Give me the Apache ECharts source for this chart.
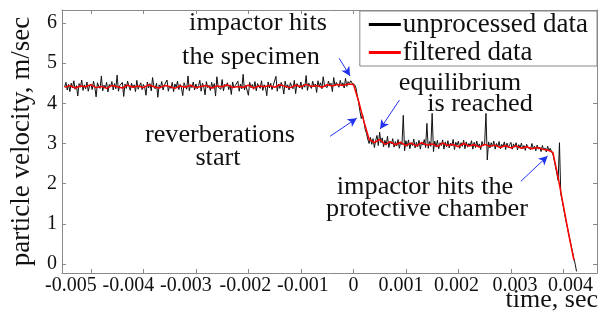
<!DOCTYPE html>
<html>
<head>
<meta charset="utf-8">
<script src="https://cdn.jsdelivr.net/npm/echarts@6/dist/echarts.min.js"></script>
<style>
html, body { margin: 0; padding: 0; background: #fff; }
#chart { width: 609px; height: 318px; }
</style>
</head>
<body>
<div id="chart"></div>
<script>
// sampling of the two traces (sec)
var tStart = -0.0055;
var rawStep = 0.000025;
var filtStep = 0.0001;

// unprocessed velocity, m/sec
var rawVel = [
  // first plateau, before impact
  4.41,4.52,4.33,4.47,4.29,4.50,4.38,4.56,4.35,4.44,
  4.18,4.49,4.40,4.58,4.32,4.46,4.36,4.53,4.30,4.43,
  4.48,4.34,4.55,4.39,4.16,4.51,4.42,4.37,4.68,4.31,
  4.45,4.38,4.52,4.28,4.47,4.41,4.54,4.33,4.49,4.36,
  4.70,4.30,4.44,4.40,4.52,4.17,4.48,4.37,4.55,4.42,
  4.32,4.50,4.39,4.46,4.29,4.57,4.35,4.43,4.51,4.34,
  4.47,4.40,4.20,4.53,4.38,4.49,4.31,4.64,4.42,4.36,
  4.50,4.15,4.46,4.39,4.54,4.33,4.45,4.41,4.58,4.30,
  4.43,4.37,4.52,4.29,4.48,4.40,4.55,4.34,4.47,4.38,
  4.19,4.51,4.42,4.35,4.68,4.31,4.46,4.39,4.53,4.33,
  4.48,4.36,4.44,4.57,4.30,4.50,4.41,4.21,4.54,4.39,
  4.45,4.32,4.52,4.37,4.49,4.18,4.66,4.40,4.43,4.35,
  4.59,4.31,4.47,4.42,4.51,4.34,4.46,4.22,4.53,4.38,
  4.44,4.40,4.55,4.30,4.48,4.36,4.72,4.33,4.45,4.41,
  4.20,4.52,4.39,4.47,4.35,4.54,4.31,4.49,4.42,4.37,
  4.56,4.32,4.46,4.40,4.19,4.53,4.38,4.50,4.34,4.45,
  4.41,4.67,4.30,4.48,4.37,4.52,4.43,4.23,4.55,4.39,
  4.46,4.33,4.51,4.42,4.36,4.57,4.24,4.49,4.44,4.38,
  4.53,4.35,4.47,4.40,4.69,4.32,4.50,4.43,4.37,4.55,
  4.41,4.48,4.27,4.56,4.42,4.51,4.36,4.66,4.44,4.47,
  4.39,4.55,4.45,4.50,4.29,4.64,4.43,4.52,4.46,4.40,
  4.57,4.44,4.51,4.38,4.62,4.42,4.54,4.49,4.56,4.50,
  // impact and reverberations
  4.52,4.46,4.38,4.18,4.02,3.80,3.62,3.72,3.55,3.35,
  3.25,3.10,3.00,3.15,2.98,3.12,2.90,3.08,3.20,2.95,
  3.28,
  // equilibrium
  3.02,3.14,2.92,3.08,2.96,3.18,2.90,3.06,2.99,3.12,
  2.91,3.05,2.94,3.10,2.88,3.04,2.97,3.70,2.82,3.07,
  2.93,3.09,2.87,3.02,2.95,3.11,2.89,3.03,2.92,3.08,
  2.86,3.04,2.96,3.10,2.90,3.50,2.88,3.05,2.93,3.75,
  2.80,3.06,2.91,3.08,2.87,3.02,2.95,3.09,2.86,3.04,
  2.92,3.07,2.89,3.01,2.94,3.10,2.85,3.03,2.96,3.06,
  2.88,3.02,2.93,3.08,2.87,3.04,2.91,3.00,2.95,3.07,
  2.86,3.03,2.90,3.06,2.92,2.99,2.85,3.05,2.94,3.01,
  3.75,2.59,3.04,2.89,3.02,2.93,3.06,2.86,3.00,2.91,
  3.05,2.87,2.98,2.92,3.04,2.85,3.01,2.90,2.97,3.03,
  2.86,2.99,2.91,3.02,2.84,2.97,2.89,3.01,2.87,2.95,
  2.83,2.98,2.90,2.94,2.85,3.00,2.88,2.93,2.82,2.96,
  2.86,2.91,2.80,2.95,2.84,2.89,2.79,2.93,2.83,2.88,2.80,
  // impactor hits the protective chamber
  2.74,2.58,2.42,2.26,2.08,3.02,1.74,1.60,1.42,1.24,
  1.06,0.92,0.76,0.60,0.44,0.30,0.14,0.00,-0.18
];

// filtered velocity, m/sec
var filtVel = [
  4.40,4.44,4.38,4.43,4.41,4.46,4.39,4.42,4.37,4.44,
  4.41,4.38,4.45,4.40,4.43,4.39,4.46,4.41,4.38,4.44,
  4.42,4.37,4.43,4.40,4.45,4.39,4.42,4.44,4.38,4.43,
  4.41,4.46,4.39,4.42,4.40,4.45,4.38,4.43,4.41,4.44,
  4.40,4.46,4.42,4.39,4.45,4.41,4.47,4.42,4.44,4.40,
  4.46,4.43,4.47,4.44,4.48,
  4.47,4.05,3.55,3.10,3.02,3.10,2.98,
  3.04,2.97,3.03,2.95,3.01,2.94,3.02,2.96,2.99,2.93,
  3.01,2.95,2.98,2.92,3.00,2.94,2.97,2.91,2.98,2.93,
  2.96,2.90,2.95,2.89,2.94,2.88,2.92,2.87,2.90,2.86,2.84,
  2.78,2.15,1.45,0.75,0.10
];

var xTicks = [-0.005, -0.004, -0.003, -0.002, -0.001, 0, 0.001, 0.002, 0.003, 0.004];
var yTicks = [0, 1, 2, 3, 4, 5, 6];

// arrows: [fromTime, fromVel, toTime, toVel]
var arrows = [
  [-0.000272, 5.12, -0.000063, 4.68],
  [-0.000444, 3.18, 0.000065, 3.63],
  [0.000876, 4.08, 0.000509, 3.36],
  [0.00319, 2.06, 0.0037, 2.69]
];

// annotation text: [text, centerX px, centerY px]
var notes = [
  ['impactor hits', 258, 23],
  ['the specimen', 251, 57],
  ['equilibrium', 460, 83],
  ['is reached', 480, 104],
  ['reverberations', 220, 135],
  ['start', 218, 158],
  ['impactor hits the', 425, 187],
  ['protective chamber', 427, 209]
];

// the tick labels of the source sit a little off their ticks (px)
var labelShift = [-20, -15, -10, -3, 2, 0, -5, -2, 4, 7];

var serif = 'Liberation Serif';

var rawData = rawVel.map(function (v, i) { return [tStart + i * rawStep, v]; });
var filtData = filtVel.map(function (v, i) { return [tStart + i * filtStep, v]; });

var labelRich = {};
labelShift.forEach(function (d, i) {
  labelRich['s' + i] = {
    fontFamily: serif, fontSize: 20, color: '#111',
    padding: d < 0 ? [0, -2 * d, 0, 0] : [0, 0, 0, 2 * d]
  };
});

function xAx(pos, labels) {
  return {
    type: 'value', position: pos, min: -0.00555, max: 0.00464,
    axisLine: { show: true, onZero: false, lineStyle: { color: '#8a8a8a', width: 1 } },
    axisTick: { show: true, inside: true, length: 4, customValues: xTicks, lineStyle: { color: '#8a8a8a' } },
    axisLabel: {
      show: labels, customValues: xTicks, margin: 3,
      fontFamily: serif, fontSize: 20, color: '#111',
      rich: labelRich,
      formatter: function (v) {
        var i = xTicks.indexOf(v);
        return i < 0 ? String(v) : '{s' + i + '|' + String(v) + '}';
      }
    },
    splitLine: { show: false }
  };
}
function yAx(pos, labels) {
  return {
    type: 'value', position: pos, min: -0.22, max: 6.32,
    axisLine: { show: true, onZero: false, lineStyle: { color: '#8a8a8a', width: 1 } },
    axisTick: { show: true, inside: true, length: 4, customValues: yTicks, lineStyle: { color: '#8a8a8a' } },
    axisLabel: { show: labels, customValues: yTicks, margin: 5, fontFamily: serif, fontSize: 20, color: '#111' },
    splitLine: { show: false },
    name: labels ? 'particle velocity, m/sec' : '',
    nameLocation: 'middle', nameRotate: 90, nameGap: 27,
    nameTextStyle: { fontFamily: serif, fontSize: 27, color: '#111' }
  };
}

var chart = echarts.init(document.getElementById('chart'));
chart.setOption({
  animation: false,
  backgroundColor: '#fff',
  grid: { left: 62, right: 12, top: 10, bottom: 45 },
  xAxis: [xAx('bottom', true), xAx('top', false)],
  yAxis: [yAx('left', true), yAx('right', false)],
  legend: {
    data: ['unprocessed data', 'filtered data'],
    orient: 'vertical', right: 12, top: 11,
    backgroundColor: '#fff', borderColor: '#888', borderWidth: 1,
    padding: [0, 9, 0, 9], itemGap: 1, itemWidth: 32, itemHeight: 3, icon: 'rect',
    textStyle: { fontFamily: serif, fontSize: 27, lineHeight: 27, color: '#111', padding: [0, 0, 0, -3] }
  },
  series: [
    {
      name: 'unprocessed data', type: 'line', data: rawData, showSymbol: false,
      color: '#000', lineStyle: { color: '#111', width: 1 }
    },
    {
      name: 'filtered data', type: 'line', data: filtData, showSymbol: false,
      color: '#ff0000', lineStyle: { color: '#ff0000', width: 1.5 },
      markLine: {
        silent: true, symbol: ['none', 'arrow'], symbolSize: [7, 9],
        label: { show: false },
        lineStyle: { color: '#2233ee', width: 1, type: 'solid' },
        data: arrows.map(function (a) {
          return [{ coord: [a[0], a[1]] }, { coord: [a[2], a[3]] }];
        })
      }
    }
  ],
  graphic: notes.map(function (n) {
    return {
      type: 'text', x: n[1], y: n[2], z: 50, scaleX: 1.05,
      style: { text: n[0], fontFamily: serif, fontSize: 25, fill: '#111', align: 'center', verticalAlign: 'middle' }
    };
  }).concat([{
    type: 'text', x: 598, y: 300,
    style: { text: 'time, sec', fontFamily: serif, fontSize: 26, fill: '#111', align: 'right', verticalAlign: 'middle' }
  }])
});
window.addEventListener('resize', function () { chart.resize(); });
</script>
</body>
</html>
